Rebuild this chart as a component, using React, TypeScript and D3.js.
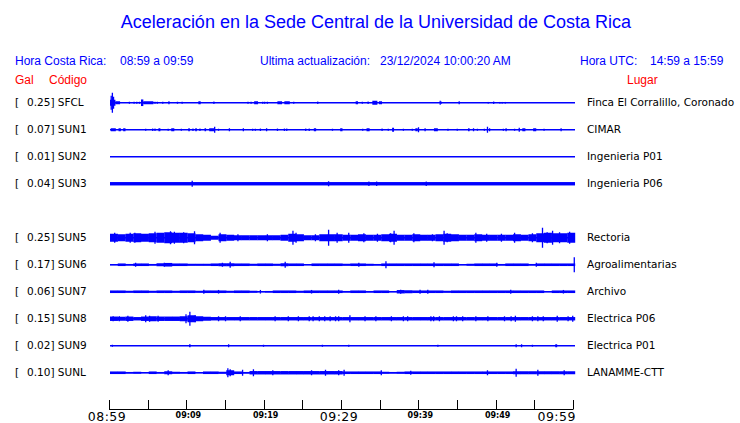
import React from "react";
import * as d3 from "d3";

// ---------- data ----------
const stationCodes = ["SFCL", "SUN1", "SUN2", "SUN3", "SUN5", "SUN6", "SUN7", "SUN8", "SUN9", "SUNL"];
const stationGal = ["0.25", "0.07", "0.01", "0.04", "0.25", "0.17", "0.06", "0.15", "0.02", "0.10"];
const stationPlaces = [
  "Finca El Corralillo, Coronado", "CIMAR", "Ingenieria P01", "Ingenieria P06", "Rectoria",
  "Agroalimentarias", "Archivo", "Electrica P06", "Electrica P01", "LANAMME-CTT",
];
// row slot of each station (slot 4 is left empty)
const stationSlots = [0, 1, 2, 3, 5, 6, 7, 8, 9, 10];
// constant background band (relative amplitude, 1 = full scale)
const stationBase = [0, 0, 0, 0.17, 0, 0, 0, 0, 0, 0];

// per-minute envelope (relative amplitude)
const sun5Env = [0.4, 0.35, 0.4, 0.45, 0.4, 0.45, 0.5, 0.55, 0.5, 0.5,
  0.45, 0.35, 0.3, 0.2, 0.35, 0.3, 0.25, 0.25, 0.25, 0.25,
  0.25, 0.25, 0.3, 0.4, 0.35, 0.25, 0.25, 0.35, 0.35, 0.35,
  0.3, 0.3, 0.35, 0.3, 0.3, 0.35, 0.4, 0.3, 0.3, 0.35,
  0.3, 0.3, 0.35, 0.4, 0.35, 0.3, 0.3, 0.35, 0.3, 0.3,
  0.3, 0.3, 0.35, 0.3, 0.35, 0.45, 0.5, 0.45, 0.45, 0.5];
const sun6Env = [0.05, 0.13, 0.08, 0.13, 0.13, 0.08, 0.15, 0.18, 0.13, 0.13,
  0.1, 0.1, 0.1, 0.13, 0.15, 0.15, 0.13, 0.13, 0.1, 0.13,
  0.13, 0.1, 0.15, 0.13, 0.13, 0.05, 0.13, 0.13, 0.13, 0.13,
  0.1, 0.13, 0.13, 0.1, 0.08, 0.13, 0.13, 0.13, 0.13, 0.13,
  0.13, 0.13, 0.13, 0.13, 0.13, 0.05, 0.1, 0.13, 0.13, 0.13,
  0.08, 0.13, 0.13, 0.13, 0.08, 0.13, 0.13, 0.13, 0.13, 0.13];
const sun7Env = [0.13, 0.13, 0.1, 0.13, 0.13, 0.1, 0.13, 0.13, 0.1, 0.13,
  0.13, 0.1, 0.13, 0.13, 0.13, 0.1, 0.13, 0.13, 0.1, 0.05,
  0.08, 0.13, 0.13, 0.13, 0.1, 0.13, 0.13, 0.13, 0.13, 0.13,
  0.08, 0.13, 0.13, 0.08, 0.13, 0.13, 0.05, 0.17, 0.15, 0.13,
  0.13, 0.13, 0.13, 0.1, 0.13, 0.13, 0.13, 0.13, 0.13, 0.13,
  0.13, 0.13, 0.13, 0.13, 0.13, 0.13, 0.05, 0.13, 0.13, 0.13];
const sun8Env = [0.22, 0.2, 0.22, 0.17, 0.22, 0.25, 0.22, 0.22, 0.22, 0.25,
  0.35, 0.25, 0.2, 0.17, 0.17, 0.17, 0.17, 0.17, 0.17, 0.17,
  0.17, 0.17, 0.17, 0.17, 0.17, 0.17, 0.17, 0.17, 0.17, 0.17,
  0.17, 0.17, 0.17, 0.17, 0.17, 0.17, 0.17, 0.17, 0.17, 0.17,
  0.17, 0.17, 0.17, 0.17, 0.17, 0.17, 0.17, 0.17, 0.17, 0.17,
  0.17, 0.17, 0.17, 0.17, 0.17, 0.17, 0.17, 0.17, 0.17, 0.17];
const sunlEnv = [0.13, 0.13, 0.08, 0.1, 0.05, 0.13, 0.08, 0.15, 0.1, 0.08,
  0.13, 0.05, 0.13, 0.13, 0.1, 0.25, 0.13, 0.08, 0.17, 0.17,
  0.17, 0.17, 0.17, 0.17, 0.17, 0.17, 0.17, 0.17, 0.17, 0.17,
  0.13, 0.13, 0.13, 0.13, 0.13, 0.1, 0.08, 0.1, 0.13, 0.13,
  0.13, 0.13, 0.13, 0.13, 0.13, 0.13, 0.13, 0.13, 0.13, 0.13,
  0.13, 0.13, 0.15, 0.15, 0.15, 0.15, 0.15, 0.15, 0.15, 0.15];
const emptyEnv: number[] = [];

// events: [startMinute, endMinute, relative amplitude]; start == end is a single spike
const sfclEvents = [[0, 0.7, 0.3], [0.3, 0.3, 1.0], [0.15, 0.15, 0.7], [0.45, 0.45, 0.6], [0.7, 1.3, 0.15],
  [2.5, 2.5, 0.1], [3.1, 3.1, 0.1], [3.45, 3.45, 0.1], [3.8, 3.8, 0.1], [4, 4.3, 0.33], [4.3, 5.6, 0.15],
  [5.8, 5.8, 0.1], [6.1, 6.1, 0.1], [6.8, 6.8, 0.1], [7.6, 7.6, 0.15], [8.7, 8.7, 0.1], [9.3, 9.3, 0.1],
  [11.4, 11.7, 0.15], [13.4, 13.4, 0.12], [17.8, 17.8, 0.1], [18.2, 18.2, 0.1], [18.6, 19.1, 0.15],
  [19.7, 19.7, 0.1], [19.95, 19.95, 0.1], [20.3, 20.3, 0.1], [21.6, 22.2, 0.15], [22.5, 23.2, 0.15],
  [23.7, 23.7, 0.1], [26.8, 26.8, 0.12], [31.7, 32.0, 0.15], [32.55, 32.55, 0.1], [33.3, 33.3, 0.12],
  [33.85, 34.5, 0.2], [34.7, 35.1, 0.15], [42.6, 42.6, 0.2], [42.7, 42.8, 0.12], [45.05, 45.05, 0.15],
  [48.8, 48.8, 0.08], [49.5, 49.5, 0.12], [50.3, 50.3, 0.08], [50.6, 50.6, 0.08], [51, 51, 0.08]];
const sun1Events = [[0.1, 0.75, 0.15], [1.1, 1.4, 0.15], [1.7, 2.0, 0.15], [4.6, 4.6, 0.1], [5.5, 5.5, 0.12],
  [5.8, 5.8, 0.12], [6.25, 6.5, 0.15], [7.5, 7.5, 0.1], [7.9, 8.3, 0.15], [9.2, 9.2, 0.1], [10.1, 10.3, 0.15],
  [10.7, 10.7, 0.12], [11.0, 11.2, 0.15], [11.6, 11.6, 0.12], [12.2, 12.4, 0.15], [12.8, 13.5, 0.15],
  [13.5, 13.5, 0.3], [14.0, 14.0, 0.1], [15.4, 15.4, 0.15], [17.2, 17.2, 0.15], [18.4, 18.4, 0.1],
  [18.75, 18.75, 0.1], [19.4, 19.4, 0.12], [20.2, 20.2, 0.15], [21.6, 21.6, 0.12], [22.5, 22.5, 0.12],
  [22.8, 22.8, 0.12], [25.25, 25.25, 0.12], [25.7, 25.7, 0.12], [26.3, 26.6, 0.15], [28.7, 28.7, 0.1],
  [29.7, 30.0, 0.15], [32.6, 32.6, 0.1], [33.1, 33.5, 0.15], [35.1, 35.1, 0.12], [35.9, 35.9, 0.1],
  [36.4, 36.65, 0.2], [37.85, 37.85, 0.1], [39.0, 39.0, 0.1], [39.4, 39.7, 0.15], [39.8, 39.8, 0.25],
  [40.65, 40.65, 0.15], [41.8, 42.3, 0.15], [43.6, 43.6, 0.1], [44.8, 44.8, 0.1], [46.2, 46.4, 0.15],
  [46.9, 46.9, 0.15], [47.4, 47.4, 0.1], [48.3, 48.3, 0.1], [48.7, 48.7, 0.3], [48.97, 48.97, 0.15],
  [50.75, 50.75, 0.1], [51.1, 51.1, 0.15], [52.2, 52.2, 0.1], [52.8, 52.8, 0.2], [53.2, 53.6, 0.15],
  [54.6, 55.0, 0.15], [56.0, 56.0, 0.1], [58.2, 58.2, 0.15]];
const sun2Events: number[][] = [];
const sun3Events = [[10.6, 10.6, 0.3], [28.2, 28.2, 0.25], [33.4, 33.4, 0.22], [34.4, 34.4, 0.22], [40.8, 40.8, 0.22]];
const sun5Events = [[0.6, 0.6, 0.5], [2.6, 2.6, 0.5], [3.2, 3.2, 0.5], [5.8, 5.8, 0.6], [7.8, 7.8, 0.65],
  [8.3, 8.3, 0.6], [9.5, 9.5, 0.55], [10.9, 10.9, 0.65], [14.2, 14.2, 0.5], [16.5, 16.5, 0.35],
  [20.3, 20.3, 0.35], [23.6, 23.6, 0.7], [24.0, 24.0, 0.5], [26.5, 26.5, 0.35], [28.2, 28.2, 0.8],
  [29.3, 29.3, 0.5], [30.8, 30.8, 0.5], [32.75, 32.75, 0.45], [34.5, 34.5, 0.4], [36.2, 36.2, 0.45],
  [36.65, 36.65, 0.7], [39.2, 39.2, 0.45], [41.6, 41.6, 0.35], [43.1, 43.1, 0.7], [43.5, 43.5, 0.45],
  [47.2, 47.2, 0.5], [48.6, 48.6, 0.4], [50.5, 50.5, 0.4], [52.2, 52.2, 0.5], [54.5, 54.5, 0.45],
  [55.8, 55.8, 1.0], [56.4, 56.4, 0.55], [57.1, 57.1, 0.7], [58.0, 58.0, 0.55], [59.3, 59.3, 0.6]];
const sun6Events = [[3.3, 3.3, 0.2], [7, 7, 0.2], [14.5, 14.5, 0.2], [15.5, 15.5, 0.3], [22.6, 22.6, 0.3],
  [32.1, 32.1, 0.2], [35.6, 35.6, 0.35], [41.8, 41.8, 0.25], [49.9, 49.9, 0.2], [55, 55, 0.2], [59.9, 59.9, 0.75]];
const sun7Events = [[12.1, 12.1, 0.2], [14, 14, 0.18], [19.4, 19.4, 0.18], [26, 26, 0.18], [29.5, 29.5, 0.2],
  [37.5, 37.5, 0.2], [40, 40, 0.2], [41, 41, 0.2], [51.7, 51.7, 0.2], [58.5, 58.5, 0.18]];
const sun8Events = [[0.4, 0.4, 0.25], [1.2, 1.2, 0.25], [2.3, 2.3, 0.3], [4.6, 4.6, 0.35], [5.1, 5.1, 0.3],
  [6.2, 6.2, 0.3], [9.8, 9.8, 0.45], [10.3, 10.3, 0.7], [11, 11, 0.35], [14, 14, 0.25], [14.9, 14.9, 0.25],
  [16.8, 16.8, 0.25], [21.3, 21.3, 0.25], [23, 23, 0.25], [24.3, 24.3, 0.25], [25.7, 25.7, 0.25],
  [26.2, 26.2, 0.25], [27, 27, 0.25], [27.7, 27.7, 0.25], [28.4, 28.4, 0.25], [29.1, 29.1, 0.25],
  [29.5, 29.5, 0.25], [30.95, 30.95, 0.35], [32.9, 32.9, 0.25], [34.3, 34.3, 0.25], [36.3, 36.3, 0.25],
  [37.85, 37.85, 0.25], [38.4, 38.4, 0.25], [41.4, 41.4, 0.25], [41.75, 41.75, 0.25], [42.5, 42.5, 0.25],
  [44.3, 44.3, 0.25], [44.7, 44.7, 0.25], [45.5, 45.5, 0.25], [47.2, 47.2, 0.25], [48.75, 48.75, 0.25],
  [50.9, 50.9, 0.25], [51.75, 51.75, 0.25], [52.3, 52.3, 0.3], [54.5, 54.5, 0.25], [55.2, 55.2, 0.25],
  [55.9, 55.9, 0.25], [57.7, 57.7, 0.3], [59.1, 59.1, 0.25], [59.7, 59.7, 0.3]];
const sun9Events = [[0.3, 0.3, 0.1], [10.2, 10.4, 0.15], [15.3, 15.3, 0.15], [19.8, 19.8, 0.1], [27.4, 27.4, 0.1],
  [30.8, 30.8, 0.1], [42.3, 42.3, 0.1], [52.4, 52.4, 0.15], [53.1, 53.1, 0.15], [54.5, 54.5, 0.1], [57.45, 57.7, 0.15]];
const sunlEvents = [[7.5, 7.5, 0.25], [15.2, 15.2, 0.45], [15.5, 15.5, 0.35], [17.1, 17.1, 0.3], [18.5, 18.5, 0.35],
  [21, 21, 0.25], [26, 26, 0.25], [27.8, 27.8, 0.3], [29.5, 29.5, 0.25], [30.2, 30.2, 0.3], [35, 35, 0.25],
  [38.8, 38.8, 0.2], [48.7, 48.7, 0.25], [52.4, 52.4, 0.4], [55.2, 55.2, 0.3], [58.6, 58.6, 0.25]];

const stationEnv = [emptyEnv, emptyEnv, emptyEnv, emptyEnv, sun5Env, sun6Env, sun7Env, sun8Env, emptyEnv, sunlEnv];
const stationEvents = [sfclEvents, sun1Events, sun2Events, sun3Events, sun5Events, sun6Events, sun7Events, sun8Events, sun9Events, sunlEvents];

const tickMinutes = [0, 5, 10, 15, 20, 25, 30, 35, 40, 45, 50, 55, 60];
const tickLabels: Record<number, string> = { 0: "08:59", 10: "09:09", 20: "09:19", 30: "09:29", 40: "09:39", 50: "09:49", 60: "09:59" };
const bigTicks = [0, 30, 60];

const title = "Aceleración en la Sede Central de la Universidad de Costa Rica";
const headerTexts = [
  { t: "Hora Costa Rica:", x: 15 }, { t: "08:59 a 09:59", x: 120 },
  { t: "Ultima actualización:", x: 260 }, { t: "23/12/2024 10:00:20 AM", x: 380 },
  { t: "Hora UTC:", x: 580 }, { t: "14:59 a 15:59", x: 650 },
];

// ---------- chart ----------
const BLUE = "#0000ff";
const SANS = "'Liberation Sans', Arial, sans-serif";
const DJV = "'DejaVu Sans', sans-serif";

export default function App() {
  const x = d3.scaleLinear().domain([0, 60]).range([110, 575]);
  const xAxis = d3.scaleLinear().domain([0, 60]).range([109, 573]);
  const rowY = d3.scalePoint<number>().domain(d3.range(11)).range([102.75, 372.75]);
  const amp = d3.scaleLinear().domain([0, 1]).range([0, 10]);

  return (
    <svg width={740} height={423} style={{ position: "absolute", left: 0, top: 0, background: "#fff" }}>
      <rect width={740} height={423} fill="#fff" />
      <text x={376} y={28} textAnchor="middle" fontFamily={SANS} fontSize={18} fill={BLUE}>{title}</text>
      {headerTexts.map((h, i) => (
        <text key={i} x={h.x} y={65} fontFamily={SANS} fontSize={12} fill={BLUE}>{h.t}</text>
      ))}
      <text x={15} y={84} fontFamily={SANS} fontSize={12} fill="#ff0000">Gal</text>
      <text x={49} y={84} fontFamily={SANS} fontSize={12} fill="#ff0000">Código</text>
      <text x={627} y={84} fontFamily={SANS} fontSize={12} fill="#ff0000">Lugar</text>

      {stationCodes.map((code, si) => {
        const cy = rowY(stationSlots[si]) as number;
        const env = stationEnv[si];
        const evs = stationEvents[si];
        const base = stationBase[si];
        return (
          <g key={code}>
            <text x={15} y={cy + 3.5} fontFamily={DJV} fontSize={10.5} fill="#000">[</text>
            <text x={27} y={cy + 3.5} fontFamily={DJV} fontSize={10.5} fill="#000">{`${stationGal[si]}] ${code}`}</text>
            <text x={587} y={cy + 3.5} fontFamily={DJV} fontSize={10.5} fill="#000">{stationPlaces[si]}</text>
            <line x1={x(0)} x2={x(60)} y1={cy} y2={cy} stroke={BLUE} strokeWidth={1.5} />
            {base > 0 && (
              <rect x={x(0)} width={x(60) - x(0)} y={cy - amp(base)} height={2 * amp(base)} fill={BLUE} />
            )}
            {env.map((v, i) => v > 0 ? (
              <rect key={"e" + i} x={x(i)} width={x(i + 1) - x(i) + 0.2} y={cy - amp(v)} height={2 * amp(v)} fill={BLUE} />
            ) : null)}
            {evs.map((ev, i) => ev[1] > ev[0] ? (
              <rect key={"v" + i} x={x(ev[0])} width={x(ev[1]) - x(ev[0])} y={cy - amp(ev[2])} height={2 * amp(ev[2])} fill={BLUE} />
            ) : (
              <rect key={"v" + i} x={x(ev[0]) - 0.6} width={1.3} y={cy - amp(ev[2])} height={2 * amp(ev[2])} fill={BLUE} />
            ))}
          </g>
        );
      })}

      <g>
        <line x1={xAxis(0)} x2={xAxis(60)} y1={409.5} y2={409.5} stroke="#000" strokeWidth={1} />
        {tickMinutes.map((m) => (
          <line key={m} x1={Math.round(xAxis(m)) + 0.5} x2={Math.round(xAxis(m)) + 0.5} y1={400} y2={409.5} stroke="#000" strokeWidth={1} />
        ))}
        {tickMinutes.filter((m) => tickLabels[m]).map((m) => {
          const big = bigTicks.includes(m);
          const last = m === 60;
          return (
            <text key={"l" + m}
              x={last ? xAxis(m) + 3 : xAxis(m) + (big ? -2 : 2)}
              y={big ? 421 : 418}
              textAnchor={last ? "end" : "middle"}
              fontFamily={DJV} fontSize={big ? 12.5 : 8} fontWeight={big ? "normal" : "bold"}
              letterSpacing={big ? 0.5 : 0} fill="#000">{tickLabels[m]}</text>
          );
        })}
      </g>
    </svg>
  );
}
